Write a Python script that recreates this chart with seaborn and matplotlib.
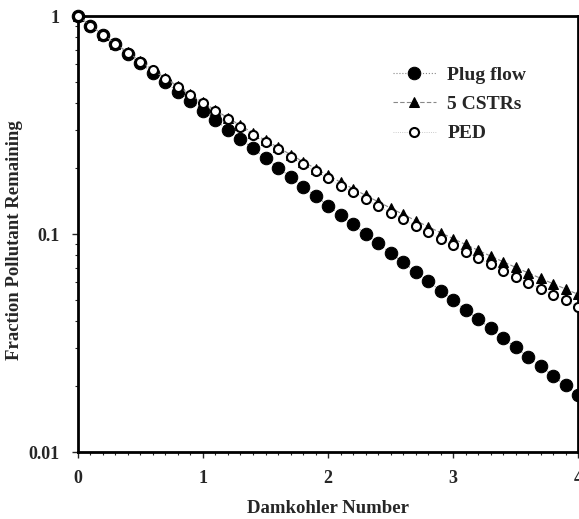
import numpy as np
import seaborn as sns
from matplotlib import pyplot as plt
from matplotlib.ticker import FixedLocator, LogLocator, NullFormatter

sns.set_style('ticks')
plt.rcParams['font.family'] = ['Liberation Serif', 'DejaVu Serif']
plt.rcParams['font.weight'] = 'bold'

#------------------------------------------------------------------------------
# Data
#------------------------------------------------------------------------------
damkohler = [0.0, 0.1, 0.2, 0.3, 0.4, 0.5, 0.6, 0.7, 0.8, 0.9,
             1.0, 1.1, 1.2, 1.3, 1.4, 1.5, 1.6, 1.7, 1.8, 1.9,
             2.0, 2.1, 2.2, 2.3, 2.4, 2.5, 2.6, 2.7, 2.8, 2.9,
             3.0, 3.1, 3.2, 3.3, 3.4, 3.5, 3.6, 3.7, 3.8, 3.9, 4.0]

plug_flow = [1.000, 0.905, 0.819, 0.741, 0.670, 0.607, 0.549, 0.497, 0.449, 0.407,
             0.368, 0.333, 0.301, 0.273, 0.247, 0.223, 0.202, 0.183, 0.165, 0.150,
             0.135, 0.122, 0.111, 0.100, 0.0907, 0.0821, 0.0743, 0.0672, 0.0608, 0.0550,
             0.0498, 0.0450, 0.0408, 0.0369, 0.0334, 0.0302, 0.0273, 0.0247, 0.0224, 0.0202,
             0.0183]

cstr5 = [1.000, 0.906, 0.822, 0.747, 0.681, 0.621, 0.567, 0.519, 0.476, 0.437,
         0.402, 0.370, 0.341, 0.315, 0.291, 0.269, 0.250, 0.2315, 0.215, 0.1998,
         0.186, 0.173, 0.1615, 0.1507, 0.1408, 0.1317, 0.1232, 0.1154, 0.1082, 0.1015,
         0.0954, 0.0896, 0.0843, 0.0793, 0.0747, 0.0704, 0.0664, 0.0627, 0.0592, 0.0560,
         0.0529]

ped = [1.000, 0.905, 0.821, 0.746, 0.679, 0.618, 0.564, 0.516, 0.473, 0.433,
       0.398, 0.366, 0.336, 0.310, 0.286, 0.264, 0.2445, 0.226, 0.209, 0.194,
       0.180, 0.167, 0.1554, 0.1445, 0.1346, 0.1254, 0.1168, 0.1089, 0.1017, 0.0949,
       0.0887, 0.0829, 0.0776, 0.0726, 0.0680, 0.0637, 0.0598, 0.0561, 0.0527, 0.0496,
       0.0463]

#------------------------------------------------------------------------------
# Plot figure
#------------------------------------------------------------------------------
fig = plt.figure(figsize=(5.79, 5.19), dpi=100)
ax = fig.add_axes([0.1347, 0.129, 0.8636, 0.840])

sns.lineplot(x=damkohler, y=plug_flow, ax=ax, color='#888888', lw=0.8, ls=':',
             marker='o', markersize=9, markerfacecolor='black', markeredgecolor='black',
             label='Plug flow', clip_on=False, zorder=3)
sns.lineplot(x=damkohler, y=cstr5, ax=ax, color='#888888', lw=0.8, ls=(0, (4, 2)),
             marker='^', markersize=6.5, markerfacecolor='black', markeredgecolor='black',
             label='5 CSTRs', clip_on=False, zorder=4)
sns.lineplot(x=damkohler, y=ped, ax=ax, color='#bbbbbb', lw=0.6, ls=':',
             marker='o', markersize=6.5, markerfacecolor='white', markeredgecolor='black',
             markeredgewidth=1.5, label='PED', clip_on=False, zorder=5)

ax.set_yscale('log')
ax.set_ylim(0.01, 1)
ax.set_xlim(0, 4)
ax.set_yticks([0.01, 0.1, 1])
ax.set_yticklabels(['0.01', '0.1', '1'])
ax.yaxis.set_minor_locator(LogLocator(base=10, subs=np.arange(2, 10)))
ax.yaxis.set_minor_formatter(NullFormatter())
ax.set_xticks([0, 1, 2, 3, 4])
ax.xaxis.set_minor_locator(FixedLocator(np.arange(0, 4.01, 0.1)))

ax.tick_params(axis='both', which='major', direction='out', length=4, width=1,
               labelsize=13, pad=9)
ax.tick_params(axis='both', which='minor', direction='out', length=2.5, width=0.8)
for lab in ax.get_xticklabels() + ax.get_yticklabels():
    lab.set_fontweight('bold')

for sp in ax.spines.values():
    sp.set_linewidth(2)
    sp.set_color('black')

ax.set_xlabel('Damkohler Number', fontsize=13.5, fontweight='bold')
ax.xaxis.set_label_coords(0.5, -0.11)
ax.set_ylabel('Fraction Pollutant Remaining', fontsize=13.5, fontweight='bold')
ax.yaxis.set_label_coords(-0.11, 0.486)

leg = ax.legend(loc='upper left', bbox_to_anchor=(0.63, 0.885), frameon=False,
                prop={'weight': 'bold', 'size': 14}, handlelength=2.2,
                labelspacing=0.6, handletextpad=0.6, borderpad=0, borderaxespad=0)

plt.savefig('out.png', dpi=100)
